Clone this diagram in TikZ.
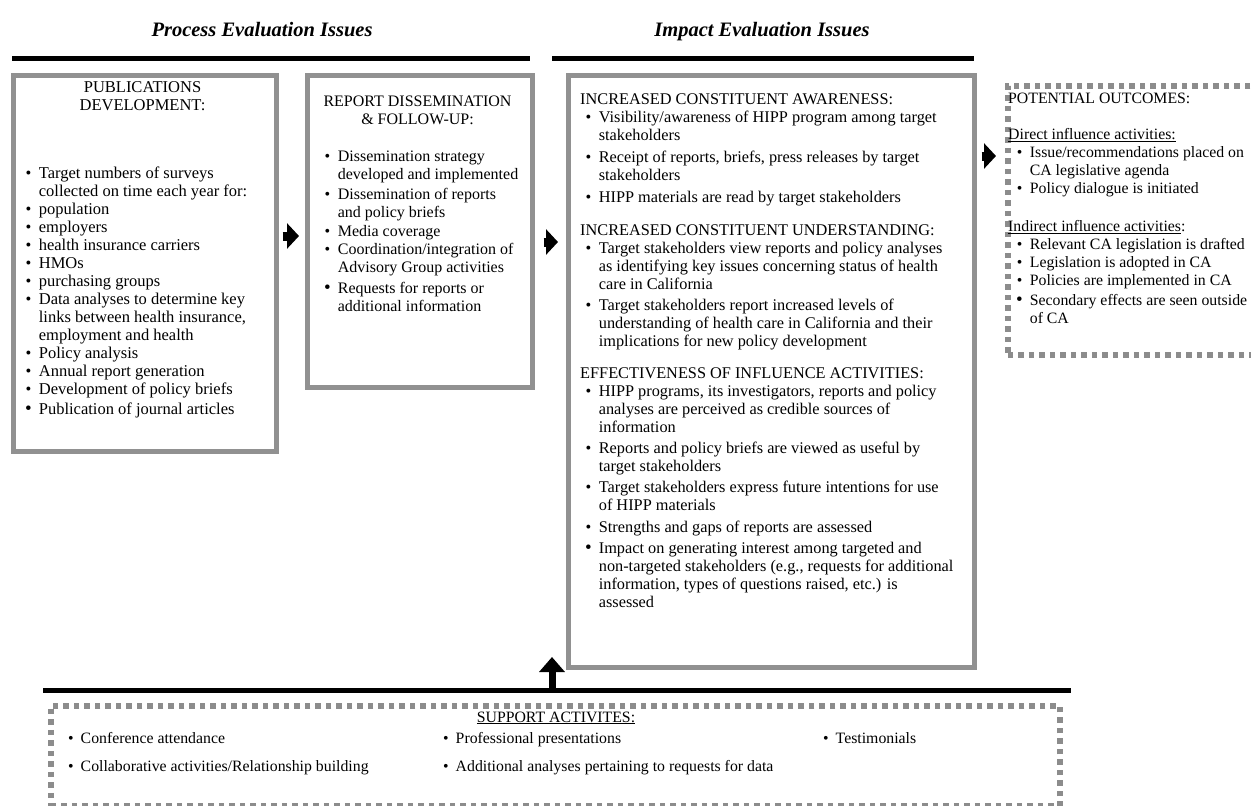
\documentclass[tikz,border=0pt]{standalone}
\usepackage{fontspec}
\setmainfont{Liberation Serif}
\usetikzlibrary{arrows.meta}
\newcommand\fonta{\fontsize{16.5}{18}\selectfont}
\newcommand\fontb{\fontsize{16}{18}\selectfont}
\newcommand\fontc{\fontsize{16.3}{18}\selectfont}
\newcommand\fontd{\fontsize{15.8}{18}\selectfont}
\newcommand\bigbul{{\fontsize{19}{18}\selectfont\textbullet}}
\definecolor{boxgray}{RGB}{145,145,145}
\definecolor{dashgray}{RGB}{140,140,140}
\tikzset{
  pbox/.style={draw=boxgray, line width=4.5pt, inner sep=0pt, anchor=north west},
  dbox/.style={draw=dashgray, line width=5.5pt, dash pattern=on 5.5pt off 5pt, inner sep=0pt, anchor=north west},
  thickrule/.style={line width=5pt, black},
  blockarrow/.style={line width=9pt, black, -{Triangle[length=12pt,width=25pt]}},
  uparrow/.style={line width=7pt, black, -{Triangle[length=15pt,width=25pt]}},
  lst/.style={anchor=north west, inner sep=0pt},
  hd/.style={anchor=north, inner sep=0pt},
  btxt/.style={anchor=base west, inner sep=0pt, font=\fontd},
  ttl/.style={anchor=base, inner sep=0pt, font=\fontsize{20.5}{24}\selectfont\bfseries\itshape},
}
\begin{document}
\begin{tikzpicture}[x=1pt,y=-1pt]
\useasboundingbox (0,0) rectangle (1251,806);

% titles and rules
\node[ttl] (ttlp) at (262,36) {Process Evaluation Issues};
\node[ttl] (ttli) at (762,36) {Impact Evaluation Issues};
\draw[thickrule] (12,58) -- (530,58);
\draw[thickrule] (552,58) -- (974,58);

% boxes
\node[pbox, minimum width=263pt, minimum height=376pt] (box1) at (11,73) {};
\node[pbox, minimum width=225pt, minimum height=312pt] (box2) at (305,73) {};
\node[pbox, minimum width=406pt, minimum height=592pt] (box3) at (566,73) {};
\node[dbox, minimum width=265pt, minimum height=269pt] (box4) at (1005,83) {};

% box 1
\node[hd, font=\fonta] (h1) at (142.5,79.4) {\begin{tabular}{@{}c@{}}PUBLICATIONS\\DEVELOPMENT:\end{tabular}};
\node[lst, font=\fonta] (t1) at (25,165.4) {\begin{tabular}{@{}c@{\hspace{7pt}}l@{}}
\textbullet & Target numbers of surveys\\
 & collected on time each year for:\\
\textbullet & population\\
\textbullet & employers\\
\textbullet & health insurance carriers\\
\textbullet & HMOs\\
\textbullet & purchasing groups\\
\textbullet & Data analyses to determine key\\
 & links between health insurance,\\
 & employment and health\\
\textbullet & Policy analysis\\
\textbullet & Annual report generation\\
\textbullet & Development of policy briefs\\[2pt]
\bigbul & Publication of journal articles
\end{tabular}};

% box 2
\node[hd, font=\fontb] (h2) at (417.5,93.4) {\begin{tabular}{@{}c@{}}REPORT DISSEMINATION\\\& FOLLOW-UP:\end{tabular}};
\node[lst, font=\fontb] (t2) at (324,148.4) {\begin{tabular}{@{}c@{\hspace{7pt}}l@{}}
\textbullet & Dissemination strategy\\
 & developed and implemented\\[2pt]
\textbullet & Dissemination of reports\\
 & and policy briefs\\[1pt]
\textbullet & Media coverage\\
\textbullet & Coordination/integration of\\
 & Advisory Group activities\\[3pt]
\bigbul & Requests for reports or\\
 & additional information
\end{tabular}};

% box 3
\node[lst, font=\fontc] (t3) at (585,91.4) {\begin{tabular}{@{}c@{\hspace{7pt}}l@{}}
\multicolumn{2}{@{\hspace{-5pt}}l@{}}{INCREASED CONSTITUENT AWARENESS:}\\
\textbullet & Visibility/awareness of HIPP program among target\\
 & stakeholders\\[4pt]
\textbullet & Receipt of reports, briefs, press releases by target\\
 & stakeholders\\[4pt]
\textbullet & HIPP materials are read by target stakeholders\\[15pt]
\multicolumn{2}{@{\hspace{-5pt}}l@{}}{INCREASED CONSTITUENT UNDERSTANDING:}\\
\textbullet & Target stakeholders view reports and policy analyses\\
 & as identifying key issues concerning status of health\\
 & care in California\\[3pt]
\textbullet & Target stakeholders report increased levels of\\
 & understanding of health care in California and their\\
 & implications for new policy development\\[14pt]
\multicolumn{2}{@{\hspace{-5pt}}l@{}}{EFFECTIVENESS OF INFLUENCE ACTIVITIES:}\\
\textbullet & HIPP programs, its investigators, reports and policy\\
 & analyses are perceived as credible sources of\\
 & information\\[3pt]
\textbullet & Reports and policy briefs are viewed as useful by\\
 & target stakeholders\\[3pt]
\textbullet & Target stakeholders express future intentions for use\\
 & of HIPP materials\\[4pt]
\textbullet & Strengths and gaps of reports are assessed\\[3pt]
\bigbul & Impact on generating interest among targeted and\\
 & non-targeted stakeholders (e.g., requests for additional\\
 & information, types of questions raised, etc.) is\\
 & assessed
\end{tabular}};

% box 4
\node[lst, font=\fontd] (t4) at (1016,90.4) {\begin{tabular}{@{}c@{\hspace{7pt}}l@{}}
\multicolumn{2}{@{\hspace{-8pt}}l@{}}{POTENTIAL OUTCOMES:}\\[18pt]
\multicolumn{2}{@{\hspace{-8pt}}l@{}}{\underline{Direct influence activities:}}\\
\textbullet & Issue/recommendations placed on\\
 & CA legislative agenda\\
\textbullet & Policy dialogue is initiated\\[20pt]
\multicolumn{2}{@{\hspace{-8pt}}l@{}}{\underline{Indirect influence activities}:}\\
\textbullet & Relevant CA legislation is drafted\\
\textbullet & Legislation is adopted in CA\\
\textbullet & Policies are implemented in CA\\[2pt]
\bigbul & Secondary effects are seen outside\\
 & of CA
\end{tabular}};

% arrows between boxes
\draw[blockarrow, shorten <=4pt, shorten >=6pt] (box1.east |- 0,236) -- (box2.west |- 0,236);
\draw[blockarrow, shorten <=9pt, shorten >=8pt] (box2.east |- 0,242) -- (box3.west |- 0,242);
\draw[blockarrow, shorten <=5pt, shorten >=9pt] (box3.east |- 0,156) -- (box4.west |- 0,156);

% support section
\draw[thickrule] (43,690) -- (1071,690);
\coordinate (upbase) at (552,690);
\coordinate (uptip) at (552,657);
\draw[uparrow] (upbase) -- (uptip);
\node[dbox, minimum width=1009pt, minimum height=100pt] (support) at (48,703) {};
\node[anchor=base, inner sep=0pt, font=\fontd] (sh) at (556,722) {\underline{SUPPORT ACTIVITES:}};
\node[btxt] (s1) at (68,743) {\textbullet\hspace{7pt}Conference attendance};
\node[btxt] (s2) at (68,771) {\textbullet\hspace{7pt}Collaborative activities/Relationship building};
\node[btxt] (s3) at (443,743) {\textbullet\hspace{7pt}Professional presentations};
\node[btxt] (s4) at (443,771) {\textbullet\hspace{7pt}Additional analyses pertaining to requests for data};
\node[btxt] (s5) at (823,743) {\textbullet\hspace{7pt}Testimonials};
\end{tikzpicture}
\end{document}
